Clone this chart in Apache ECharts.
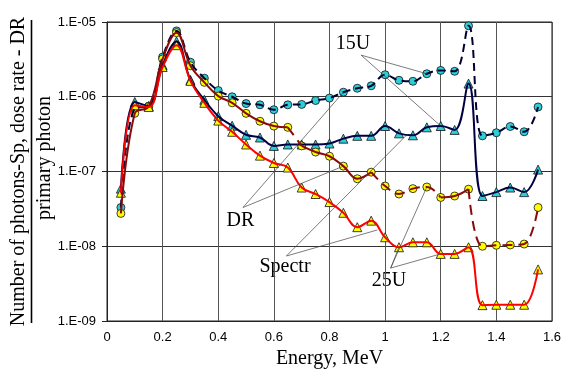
<!DOCTYPE html>
<html>
<head>
<meta charset="utf-8">
<script src="https://cdn.jsdelivr.net/npm/echarts@6/dist/echarts.min.js"></script>
<style>
  html, body { margin: 0; padding: 0; background: #fff; }
  #chart { width: 564px; height: 374px; }
</style>
</head>
<body>
<div id="chart"></div>
<script>
// photon energy, MeV
const energy = [0.05, 0.1, 0.15, 0.2, 0.25, 0.3, 0.35, 0.4, 0.45, 0.5, 0.55, 0.6, 0.65, 0.7, 0.75, 0.8,
  0.85, 0.9, 0.95, 1.0, 1.05, 1.1, 1.15, 1.2, 1.25, 1.3, 1.35, 1.4, 1.45, 1.5, 1.55];

// 15U, dose rate (cyan circles)
const dr15 = [3.3e-8, 7.0e-7, 7.5e-7, 3.4e-6, 7.6e-6, 2.9e-6, 1.77e-6, 1.21e-6, 1.0e-6, 8.1e-7, 7.8e-7,
  6.7e-7, 7.8e-7, 7.9e-7, 8.9e-7, 9.6e-7, 1.15e-6, 1.3e-6, 1.4e-6, 1.97e-6, 1.66e-6, 1.61e-6, 2.03e-6,
  2.25e-6, 2.19e-6, 8.9e-6, 3.0e-7, 3.3e-7, 4.0e-7, 3.4e-7, 7.3e-7];
// 15U, spectrum (cyan triangles)
const sp15 = [5.9e-8, 8.5e-7, 7.5e-7, 2.65e-6, 5.5e-6, 1.68e-6, 9.1e-7, 5.5e-7, 4.1e-7, 3.1e-7, 2.85e-7,
  2.2e-7, 2.3e-7, 2.3e-7, 2.3e-7, 2.37e-7, 2.75e-7, 3.0e-7, 3.0e-7, 4.06e-7, 3.24e-7, 3.05e-7, 3.9e-7,
  4.06e-7, 3.6e-7, 1.5e-6, 4.7e-8, 5.3e-8, 6.1e-8, 5.3e-8, 1.06e-7];
// 25U, dose rate (yellow circles)
const dr25 = [2.75e-8, 6.0e-7, 7.4e-7, 3.2e-6, 7.2e-6, 2.6e-6, 1.56e-6, 1.02e-6, 8.3e-7, 6.0e-7, 4.7e-7,
  4.05e-7, 3.9e-7, 2.2e-7, 1.82e-7, 1.6e-7, 1.18e-7, 8.0e-8, 9.8e-8, 6.4e-8, 5.0e-8, 5.9e-8, 6.2e-8,
  4.5e-8, 4.7e-8, 5.8e-8, 1.0e-8, 1.03e-8, 1.04e-8, 1.07e-8, 3.3e-8];
// 25U, spectrum (yellow triangles)
const sp25 = [5.2e-8, 7.7e-7, 7.3e-7, 2.5e-6, 4.9e-6, 1.63e-6, 8.3e-7, 4.8e-7, 3.4e-7, 2.3e-7, 1.63e-7,
  1.3e-7, 1.13e-7, 6.1e-8, 5.0e-8, 3.9e-8, 2.8e-8, 1.8e-8, 2.2e-8, 1.32e-8, 9.7e-9, 1.13e-8, 1.13e-8,
  7.9e-9, 7.9e-9, 9.7e-9, 1.63e-9, 1.65e-9, 1.65e-9, 1.65e-9, 4.9e-9];

// index ranges of the 25U dose-rate curve drawn solid / dashed
const dr25Solid = [[0, 12], [13, 18], [23, 25]];
const dr25Dashed = [[12, 13], [18, 23], [25, 30]];

// callout leader lines: [label, from(x, y), to(x, y)]
const leaders = [
  ['15U', [0.914, 3.6e-6], [1.15, dr15[22]]],
  ['15U', [0.914, 3.6e-6], [1.2, sp15[23]]],
  ['DR', [0.489, 3.3e-8], [0.85, dr15[16]]],
  ['DR', [0.489, 3.3e-8], [0.85, dr25[16]]],
  ['Spectr', [0.645, 7.4e-9], [1.08, 3.15e-7]],
  ['Spectr', [0.645, 7.4e-9], [0.972, 1.65e-8]],
  ['25U', [1.02, 5.1e-9], [1.15, dr25[22]]],
  ['25U', [1.02, 5.1e-9], [1.05, sp25[20]]],
  ['25U', [1.02, 5.1e-9], [1.2, sp25[23]]]
];

const pairs = (vals, from, to) => {
  const out = [];
  for (let i = from; i <= to; i++) out.push([energy[i], vals[i]]);
  return out;
};

const curve = (vals, from, to, color, type) => ({
  type: 'line',
  data: pairs(vals, from, to),
  smooth: 0.4,
  showSymbol: false,
  silent: true,
  lineStyle: { color: color, width: 2, type: type || 'solid' }
});

const markers = (vals, symbol, fill, size) => ({
  type: 'scatter',
  data: pairs(vals, 0, energy.length - 1),
  symbol: symbol,
  symbolSize: size,
  itemStyle: { color: fill, borderColor: '#111', borderWidth: 0.8, opacity: 1 }
});

const serif = 'Liberation Serif, Times New Roman, serif';
const sans = 'Liberation Sans, Arial, sans-serif';

let myChart = echarts.init(document.getElementById('chart'));

let series = [];
// 15U dose rate
series.push(curve(dr15, 0, energy.length - 1, '#000033', [8, 5]));
series.push(markers(dr15, 'circle', '#2ccfd8', 8));
// 15U spectrum
series.push(curve(sp15, 0, energy.length - 1, '#000044'));
series.push(markers(sp15, 'triangle', '#2ccfd8', 9));
// 25U dose rate
dr25Solid.forEach(r => series.push(curve(dr25, r[0], r[1], '#8a0a0a')));
dr25Dashed.forEach(r => series.push(curve(dr25, r[0], r[1], '#8a0a0a', [10, 6])));
series.push(markers(dr25, 'circle', '#ffff00', 8));
// 25U spectrum
series.push(curve(sp25, 0, energy.length - 1, '#ff0000'));
let last = markers(sp25, 'triangle', '#ffff00', 9);
last.markLine = {
  silent: true,
  symbol: ['none', 'none'],
  label: { show: false },
  lineStyle: { color: '#444', width: 0.7, type: 'solid' },
  data: leaders.map(l => [{ coord: l[1] }, { coord: l[2] }])
};
series.push(last);

let option = {
  animation: false,
  backgroundColor: '#fff',
  grid: { left: 107, right: 11, top: 22, bottom: 50, show: true, borderColor: '#222', borderWidth: 1 },
  xAxis: {
    type: 'value',
    min: 0,
    max: 1.6,
    interval: 0.2,
    name: 'Energy, MeV',
    nameLocation: 'middle',
    nameGap: 28,
    nameTextStyle: { fontFamily: serif, fontSize: 20, color: '#000' },
    axisLine: { show: true, lineStyle: { color: '#222' } },
    axisTick: { show: false },
    axisLabel: { fontFamily: sans, fontSize: 13, color: '#000', margin: 10 },
    splitLine: { show: true, lineStyle: { color: '#555', width: 1 } }
  },
  yAxis: {
    type: 'log',
    logBase: 10,
    min: 1e-9,
    max: 1e-5,
    axisLine: { show: true, lineStyle: { color: '#222' } },
    axisTick: { show: true, length: 5, lineStyle: { color: '#222' } },
    minorTick: { show: false },
    axisLabel: {
      fontFamily: sans, fontSize: 13, color: '#000', margin: 11,
      formatter: v => {
        const e = Math.round(Math.log10(v));
        return '1.E' + (e < 0 ? '-' : '+') + String(Math.abs(e)).padStart(2, '0');
      }
    },
    splitLine: { show: true, lineStyle: { color: '#333', width: 1 } }
  },
  graphic: [
    { type: 'text', x: 18.5, y: 171.5, rotation: Math.PI / 2,
      style: { text: 'Number of photons-Sp, dose rate - DR', font: '20px ' + serif, fill: '#000', align: 'center', verticalAlign: 'middle' } },
    // fraction bar of the y-axis title
    { type: 'line', shape: { x1: 31.5, y1: 20, x2: 31.5, y2: 323 }, style: { stroke: '#000', lineWidth: 1.6 } },
    { type: 'text', x: 45, y: 158, rotation: Math.PI / 2,
      style: { text: 'primary photon', font: '20px ' + serif, fill: '#000', align: 'center', verticalAlign: 'middle' } },
    { type: 'text', x: 353, y: 44, style: { text: '15U', font: '20px ' + serif, fill: '#000', align: 'center', verticalAlign: 'middle' } },
    { type: 'text', x: 240.5, y: 221, style: { text: 'DR', font: '20px ' + serif, fill: '#000', align: 'center', verticalAlign: 'middle' } },
    { type: 'text', x: 285, y: 266.5, style: { text: 'Spectr', font: '20px ' + serif, fill: '#000', align: 'center', verticalAlign: 'middle' } },
    { type: 'text', x: 389, y: 281, style: { text: '25U', font: '20px ' + serif, fill: '#000', align: 'center', verticalAlign: 'middle' } }
  ],
  series: series
};

myChart.setOption(option);
</script>
</body>
</html>
